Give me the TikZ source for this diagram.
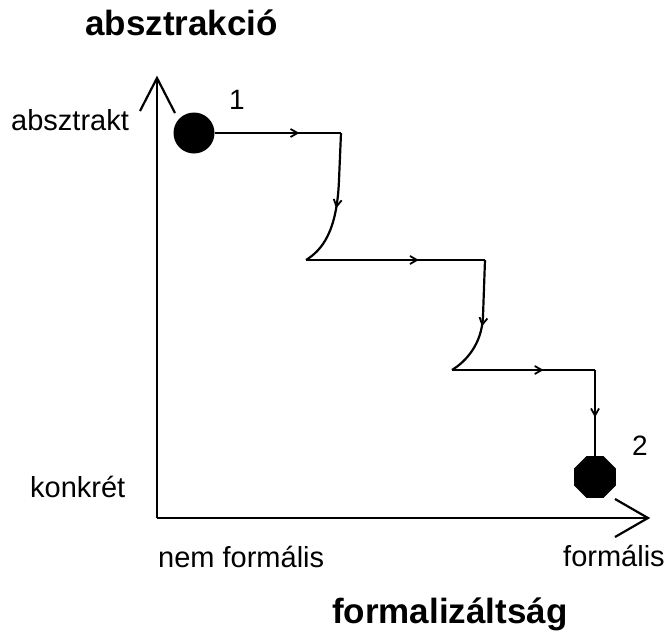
\documentclass[tikz,border=0pt]{standalone}
\usepackage{fontspec}
\setmainfont{Liberation Sans}
\usetikzlibrary{arrows.meta,shapes.geometric,decorations.markings}
\begin{document}
\begin{tikzpicture}[x=1pt,y=-1pt,
  axis/.style={line width=2.2pt},
  route/.style={line width=2.2pt, line join=round},
  flow/.style={postaction={decorate},
    decoration={markings, mark=at position #1 with {\arrow{Straight Barb[length=7pt,width=8pt,line width=1.8pt]}}}},
  lbl/.style={anchor=base west, inner sep=0pt, font=\fontsize{29}{34}\selectfont},
  title/.style={anchor=base west, inner sep=0pt, font=\fontsize{35}{40}\selectfont\bfseries},
  num/.style={inner sep=0pt, font=\fontsize{28}{32}\selectfont},
  dot/.style={fill=black, draw=none}]
\useasboundingbox (0,0) rectangle (667,632);

% axes
\coordinate (O) at (157,518);
\coordinate (ytop) at (157,78);
\coordinate (yl) at (140,111);
\coordinate (yr) at (175,113);
\coordinate (xend) at (648,518);
\coordinate (xu) at (615,499);
\coordinate (xd) at (615,537);
\draw[axis] (O) -- (ytop);
\draw[axis] (O) -- (xend);
\draw[axis] (yl) -- (ytop) -- (yr);
\draw[axis] (xu) -- (xend) -- (xd);

% start and end points
\node[dot, circle, minimum size=41pt] (s) at (194,133) {};
\node[dot, regular polygon, regular polygon sides=8, minimum size=45pt] (e) at (595,477) {};

% corners of the stepped route
\coordinate (a1) at (341,133);
\coordinate (a2) at (339,180);
\coordinate (b0) at (306,260);
\coordinate (b1) at (485,260);
\coordinate (b2) at (483,316);
\coordinate (c0) at (452,370);
\coordinate (c1) at (595,370);

\draw[route, flow=0.67] (s.east) -- (a1);
\draw[route, flow=0.55] (a1) -- (a2) .. controls (337,232) and (322,250) .. (b0);
\draw[route, flow=0.63] (b0) -- (b1);
\draw[route, flow=0.55] (b1) -- (b2) .. controls (482,345) and (465,362) .. (c0);
\draw[route, flow=0.64] (c0) -- (c1);
\draw[route, flow=0.55] (c1) -- (e.north);

% labels
\node[num] (n1) at (237,100) {1};
\node[num] (n2) at (640,446) {2};
\node[title] (ty) at (85,35) {absztrakció};
\node[title] (tx) at (332,623) {formalizáltság};
\node[lbl] (abs) at (11,130) {absztrakt};
\node[lbl] (kon) at (30,497) {konkrét};
\node[lbl] (nf) at (158,567) {nem formális};
\node[lbl] (f) at (563,566) {formális};
\end{tikzpicture}
\end{document}
